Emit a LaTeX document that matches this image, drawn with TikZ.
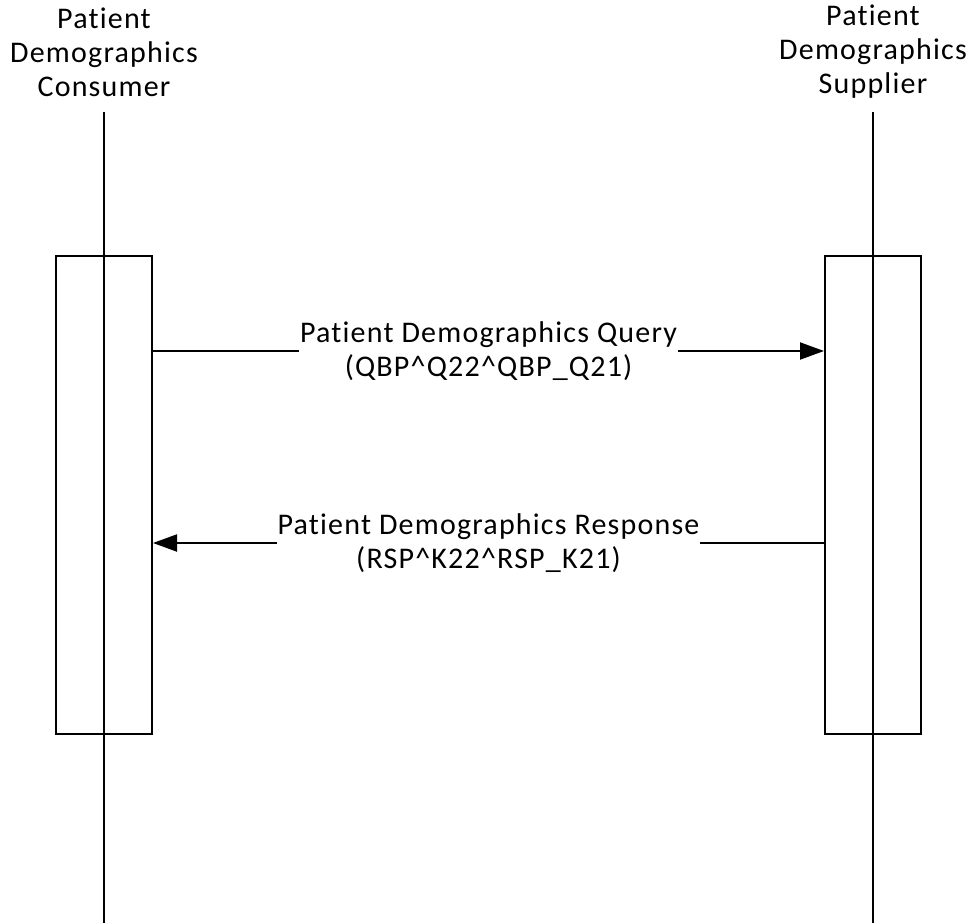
\documentclass[tikz,border=0pt]{standalone}
\usepackage{fontspec}
\setmainfont{Carlito}[Ligatures=NoCommon, LetterSpace=4]
\usetikzlibrary{positioning,arrows.meta}
\tikzset{
	actor/.style={align=center, inner sep=0pt, font=\fontsize{30}{34}\selectfont},
	actbox/.style={draw, line width=2pt, minimum width=96pt, minimum height=478pt, inner sep=0pt},
	lifeline/.style={line width=2pt},
	msg/.style={line width=2pt, -{Triangle[length=24pt, width=17pt]}},
	msglabel/.style={align=center, fill=white, inner sep=1pt, font=\fontsize{30}{34}\selectfont}
}

\begin{document}
\begin{tikzpicture}[x=1pt, y=-1pt]
				
				\useasboundingbox (0,0) rectangle (972,923);
				
				% participants
				\node[actor] (consumer) at (104,52) {Patient\\Demographics\\Consumer};
				\node[actor] (supplier) at (873,52) {Patient\\Demographics\\Supplier};
				
				% lifelines
				\coordinate (cTop) at (104,112);
				\coordinate (cBot) at (104,923);
				\coordinate (sTop) at (873,112);
				\coordinate (sBot) at (873,923);
				\draw[lifeline] (cTop) -- (cBot);
				\draw[lifeline] (sTop) -- (sBot);
				
				% activation boxes
				\node[actbox] (cAct) at (104,495) {};
				\node[actbox] (sAct) at (873,495) {};
				
				% messages
				\coordinate (query) at (0,351);
				\coordinate (response) at (0,543);
				\draw[msg] (cAct.east |- query) -- (sAct.west |- query)
					node[msglabel, midway] (queryText) {Patient Demographics Query\\(QBP\textasciicircum Q22\textasciicircum QBP\_Q21)};
				\draw[msg] (sAct.west |- response) -- (cAct.east |- response)
					node[msglabel, midway] (responseText) {Patient Demographics Response\\(RSP\textasciicircum K22\textasciicircum RSP\_K21)};
								
				\end{tikzpicture}
\end{document}
